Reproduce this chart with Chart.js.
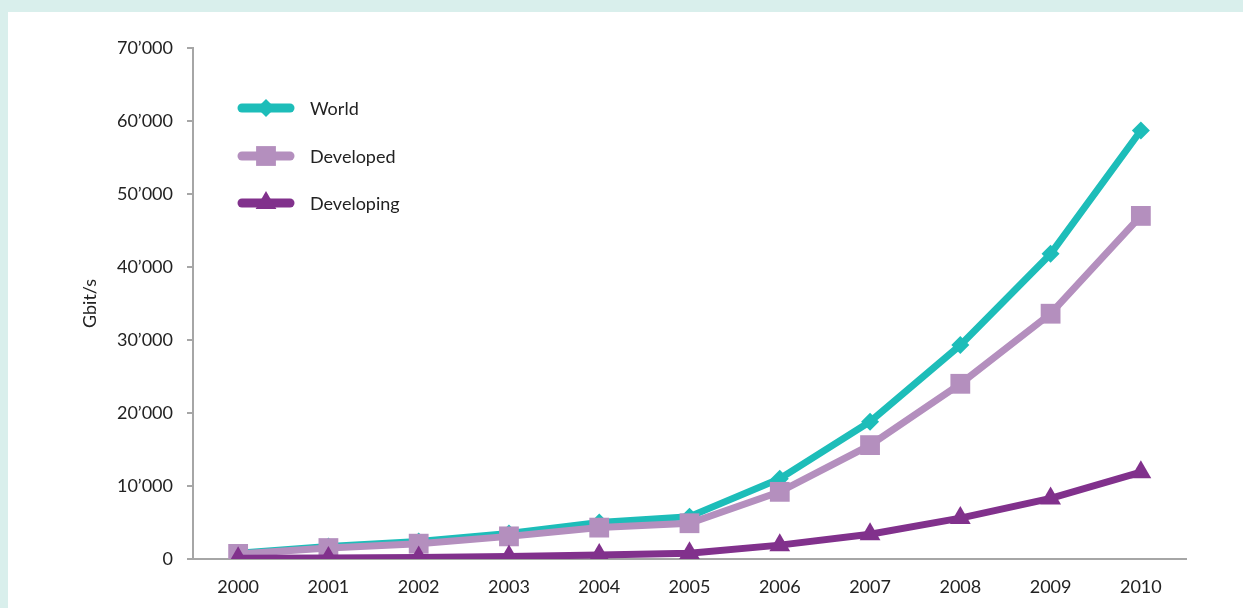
<!DOCTYPE html>
<html>
<head>
<meta charset="utf-8">
<script src="https://cdn.jsdelivr.net/npm/chart.js@4.4.1/dist/chart.umd.min.js"></script>
<style>
    html, body { margin: 0; padding: 0; }
    body { background: #d9efec; width: 1243px; height: 608px; overflow: hidden; position: relative; }
    #panel { position: absolute; left: 8px; top: 12px; width: 1235px; height: 596px; background: #fff; }
</style>
</head>
<body>
<div id="panel"><canvas id="bandwidthChart" width="1235" height="596"></canvas></div>
<script>
// International Internet bandwidth, Gbit/s
const years = ['2000', '2001', '2002', '2003', '2004', '2005', '2006', '2007', '2008', '2009', '2010'];
const worldData = [800, 1700, 2400, 3500, 5000, 5800, 11000, 18800, 29300, 41800, 58700];
const developedData = [700, 1500, 2100, 3100, 4300, 4900, 9200, 15600, 24000, 33600, 47000];
const developingData = [100, 150, 200, 350, 550, 800, 1900, 3400, 5600, 8300, 11900];
const seriesNames = ['World', 'Developed', 'Developing'];
const yTicks = [0, 10000, 20000, 30000, 40000, 50000, 60000, 70000];

const fontFamily = 'Lato, "Open Sans", sans-serif';
const textColor = '#222222';
const axisColor = '#a6a6a6';

function formatThousands(v) {
    return Math.round(v).toString().replace(/\B(?=(\d{3})+(?!\d))/g, '\u2019');
}

// Draws the legend in the top-left of the plot (line sample with marker in the middle)
const insideLegend = {
    id: 'insideLegend',
    afterDraw(chart) {
        const ctx = chart.ctx;
        const x0 = 234, x1 = 282, textX = 302;
        const rows = [96, 144, 191];
        chart.data.datasets.forEach((ds, i) => {
            const y = rows[i];
            ctx.save();
            ctx.strokeStyle = ds.borderColor;
            ctx.lineWidth = 9;
            ctx.lineCap = 'round';
            ctx.beginPath();
            ctx.moveTo(x0, y);
            ctx.lineTo(x1, y);
            ctx.stroke();

            const cx = (x0 + x1) / 2;
            const r = ds.pointRadius;
            ctx.fillStyle = ds.borderColor;
            ctx.beginPath();
            if (ds.pointStyle === 'rectRot') {
                ctx.moveTo(cx - r, y);
                ctx.lineTo(cx, y - r);
                ctx.lineTo(cx + r, y);
                ctx.lineTo(cx, y + r);
            } else if (ds.pointStyle === 'rect') {
                const s = Math.SQRT1_2 * r;
                ctx.rect(cx - s, y - s, 2 * s, 2 * s);
            } else {
                const w = r * Math.sin(Math.PI / 3);
                ctx.moveTo(cx, y - r);
                ctx.lineTo(cx + w, y + r / 2);
                ctx.lineTo(cx - w, y + r / 2);
            }
            ctx.closePath();
            ctx.fill();

            ctx.fillStyle = textColor;
            ctx.font = '18px ' + fontFamily;
            ctx.textBaseline = 'middle';
            ctx.textAlign = 'left';
            ctx.fillText(ds.label, textX, y + 1);
            ctx.restore();
        });
    }
};

const ctx = document.getElementById('bandwidthChart').getContext('2d');
new Chart(ctx, {
    type: 'line',
    data: {
        labels: years,
        datasets: [{
            label: seriesNames[0],
            data: worldData,
            borderColor: '#1dbdb9',
            backgroundColor: '#1dbdb9',
            borderWidth: 7,
            pointStyle: 'rectRot',
            pointRadius: 9,
            pointBorderWidth: 0,
            order: 3
        }, {
            label: seriesNames[1],
            data: developedData,
            borderColor: '#b48fbe',
            backgroundColor: '#b48fbe',
            borderWidth: 7,
            pointStyle: 'rect',
            pointRadius: 14,
            pointBorderWidth: 0,
            order: 2
        }, {
            label: seriesNames[2],
            data: developingData,
            borderColor: '#81318c',
            backgroundColor: '#81318c',
            borderWidth: 7,
            pointStyle: 'triangle',
            pointRadius: 12,
            pointBorderWidth: 0,
            order: 1
        }]
    },
    options: {
        responsive: false,
        animation: false,
        devicePixelRatio: 1,
        layout: { padding: { top: 36, right: 57, bottom: 0, left: 0 } },
        elements: { line: { tension: 0 } },
        plugins: {
            legend: { display: false },
            tooltip: { enabled: false }
        },
        scales: {
            x: {
                offset: true,
                grid: { display: false, drawTicks: false },
                border: { display: true, color: axisColor, width: 2 },
                ticks: { color: textColor, padding: 17, font: { family: fontFamily, size: 18 } },
                afterFit(scale) { scale.height = 49; }
            },
            y: {
                min: 0,
                max: 70000,
                afterBuildTicks(scale) { scale.ticks = yTicks.map(v => ({ value: v })); },
                grid: { drawOnChartArea: false, drawTicks: true, tickLength: 6, color: axisColor, lineWidth: 2 },
                border: { display: true, color: axisColor, width: 2 },
                ticks: {
                    color: textColor,
                    padding: 14,
                    font: { family: fontFamily, size: 18 },
                    callback: (v) => formatThousands(v)
                },
                title: {
                    display: true,
                    text: 'Gbit/s',
                    color: textColor,
                    font: { family: fontFamily, size: 18 },
                    padding: { top: 71, bottom: 0 }
                },
                afterFit(scale) { scale.width = 185; }
            }
        }
    },
    plugins: [insideLegend]
});
</script>
</body>
</html>
